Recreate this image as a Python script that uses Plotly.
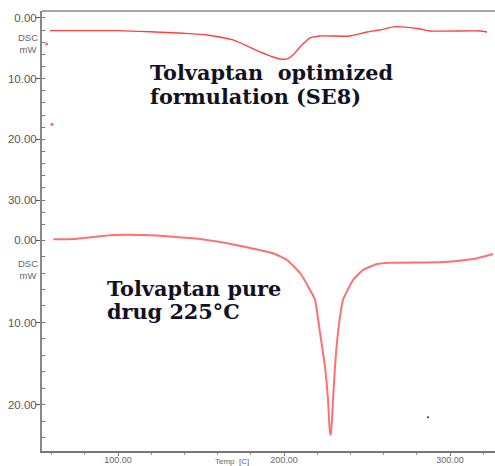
import plotly.graph_objects as go

# Top curve: Tolvaptan optimized formulation (SE8)
se8_temp = [59.0, 99.4, 119.3, 139.2, 153.6, 169.3, 185.5, 193.4, 197.6, 201.8, 205.4, 209.6,
            215.7, 221.7, 239.8, 250.0, 257.8, 266.9, 281.9, 288.0, 318.1, 322.3]
se8_dsc = [2.09, 2.09, 2.26, 2.52, 2.80, 3.62, 5.60, 6.43, 6.75, 6.75, 6.10, 4.78,
           3.29, 2.97, 2.97, 2.31, 1.98, 1.43, 1.81, 2.14, 2.14, 2.31]

# Bottom curve: Tolvaptan pure drug
pure_temp = [61.0, 72.9, 97.0, 115.1, 133.1, 149.4, 165.7, 177.7, 193.4, 201.8, 209.6, 215.7,
             218.7, 221.7, 224.7, 226.5, 227.7, 228.3, 229.5, 230.7, 232.5, 235.5, 241.6,
             247.6, 256.0, 263.9, 294.0, 304.2, 316.3, 325.9]
pure_dsc = [-0.08, -0.12, -0.61, -0.61, -0.40, -0.12, 0.40, 0.88, 1.61, 2.42, 4.00, 6.06,
            7.27, 11.27, 15.39, 19.39, 23.39, 23.64, 19.39, 15.39, 11.27, 7.27, 4.85,
            3.64, 2.91, 2.75, 2.70, 2.55, 2.22, 1.70]

# Stray marks present in the original scan
stray_top_temp = [57.0, 60.2]
stray_top_dsc = [4.3, 17.5]
stray_bot_temp = [286.7]
stray_bot_dsc = [21.5]

x_ticks = [100, 200, 300]
x_ticklabels = ["100.00", "200.00", "300.00"]
top_ticks = [0, 10, 20, 30]
top_ticklabels = ["0.00", "10.00", "20.00", "30.00"]
bot_ticks = [0, 10, 20]
bot_ticklabels = ["0.00", "10.00", "20.00"]

W, H = 495, 466
ML, MR, MT, MB = 42, 0, 11, 15
PW, PH = W - ML - MR, H - MT - MB

def px(x):
    return (x - ML) / PW

def py(y):
    return (H - MB - y) / PH

split = py(232)

fig = go.Figure()
fig.add_trace(go.Scatter(x=se8_temp, y=se8_dsc, mode="lines", line=dict(color="#ff4040", width=1.4, shape="spline", smoothing=0.6),
                         xaxis="x", yaxis="y", showlegend=False))
fig.add_trace(go.Scatter(x=pure_temp, y=pure_dsc, mode="lines", line=dict(color="#ff7070", width=2, shape="spline", smoothing=0.4),
                         xaxis="x", yaxis="y2", showlegend=False))
fig.add_trace(go.Scatter(x=stray_top_temp, y=stray_top_dsc, mode="markers", marker=dict(color="#ff6060", size=3),
                         xaxis="x", yaxis="y", showlegend=False))
fig.add_trace(go.Scatter(x=stray_bot_temp, y=stray_bot_dsc, mode="markers", marker=dict(color="#333333", size=2),
                         xaxis="x", yaxis="y2", showlegend=False))

axis_font = dict(family="Liberation Sans, Arial", size=11.5, color="#555555")

fig.update_layout(
    width=W, height=H,
    margin=dict(l=ML, r=MR, t=MT, b=MB),
    paper_bgcolor="white", plot_bgcolor="white",
    xaxis=dict(range=[54.2, 327.1], anchor="y2", showgrid=False, zeroline=False,
               showline=True, linecolor="#777777", linewidth=1.5,
               tickvals=x_ticks, ticktext=x_ticklabels, ticks="outside", ticklen=3,
               ticklabelstandoff=-4,
               tickcolor="#777777", tickfont=dict(family="Liberation Sans, Arial", size=9, color="#666666"),
               minor=dict(dtick=20, tick0=0, ticks="outside", ticklen=2, tickcolor="#999999")),
    yaxis=dict(domain=[split, 1], range=[35.26, -1.15], showgrid=False, zeroline=False,
               showline=True, linecolor="#888888", linewidth=2,
               tickvals=top_ticks, ticktext=top_ticklabels, ticks="outside", ticklen=4,
               ticklabelstandoff=-3,
               tickcolor="#555555", tickfont=axis_font,
               minor=dict(dtick=2, tick0=0, ticks="inside", ticklen=3, tickcolor="#777777")),
    yaxis2=dict(domain=[0, split], range=[25.58, -0.97], showgrid=False, zeroline=False,
                showline=True, linecolor="#888888", linewidth=2,
                tickvals=bot_ticks, ticktext=bot_ticklabels, ticks="outside", ticklen=4,
                ticklabelstandoff=-3,
                tickcolor="#555555", tickfont=axis_font,
                minor=dict(dtick=2, tick0=0, ticks="inside", ticklen=3, tickcolor="#777777")),
    shapes=[dict(type="line", xref="paper", yref="paper", x0=0, x1=1, y0=1, y1=1,
                 line=dict(color="#888888", width=1.5))],
)

label_font = dict(family="Liberation Sans, Arial", size=9.5, color="#666666")
for yc in (43, 269):
    fig.add_annotation(x=px(28), y=py(yc), xref="paper", yref="paper", text="DSC<br>mW",
                       showarrow=False, font=label_font, xanchor="center", yanchor="middle",
                       align="center")

title_font = dict(family="DejaVu Serif", size=20.8, color="#111122")
lines = [("<b>Tolvaptan  optimized</b>", 150, 73), ("<b>formulation (SE8)</b>", 150, 97),
         ("<b>Tolvaptan pure</b>", 107, 288), ("<b>drug 225°C</b>", 107, 311)]
for txt, xl, yc in lines:
    fig.add_annotation(x=px(xl), y=py(yc), xref="paper", yref="paper", text=txt,
                       showarrow=False, font=title_font, xanchor="left", yanchor="middle",
                       align="left", xshift=-2)
fig.add_annotation(x=px(232), y=py(455), xref="paper", yref="paper", text="Temp  [C]",
                   showarrow=False, font=dict(family="Liberation Sans, Arial", size=8, color="#666666"),
                   xanchor="center", yanchor="top")

fig.write_html("out.html")
